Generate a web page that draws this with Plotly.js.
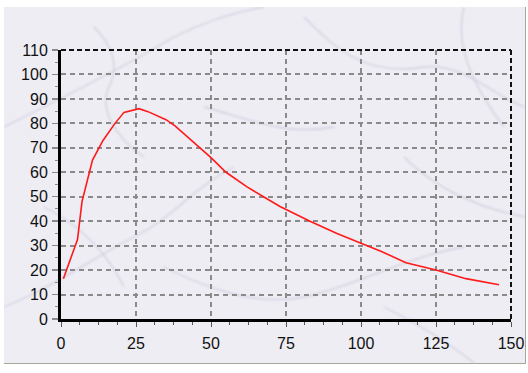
<!DOCTYPE html>
<html>
<head>
<meta charset="utf-8">
<script src="https://cdn.plot.ly/plotly-3.0.1.min.js"></script>
<style>
  html, body { margin: 0; padding: 0; background: #ffffff; width: 528px; height: 373px; overflow: hidden; }
  #bg {
    position: absolute; left: 4px; top: 7px; width: 521px; height: 356px;
    background-color: #eeedf4;
    border-right: 1px solid #a9a6a0; border-bottom: 1px solid #a9a6a0;
    background-image: url("data:image/svg+xml;utf8,<svg xmlns='http://www.w3.org/2000/svg' width='521' height='356'><defs><filter id='b'><feGaussianBlur stdDeviation='0.8'/></filter></defs><g fill='none' stroke='%23c3c0d2' stroke-width='1.3' opacity='0.7' filter='url(%23b)'><path d='M0 120 C60 90 120 60 170 30 C200 15 230 5 260 0'/><path d='M90 20 C110 40 115 60 105 80 C95 100 110 130 140 150'/><path d='M0 300 C50 280 90 250 130 230 C170 210 190 180 230 160'/><path d='M160 260 C200 280 250 300 300 290 C350 280 400 250 460 240'/><path d='M300 10 C330 40 360 70 420 60 C460 55 490 90 521 100'/><path d='M400 150 C430 180 470 200 521 210'/><path d='M380 300 C420 320 450 340 470 356'/><path d='M200 100 C240 110 280 130 330 120'/><path d='M40 200 C70 215 100 240 120 280'/><path d='M460 0 C450 40 470 80 500 120'/></g></svg>");
  }
  #chart { position: absolute; left: 0; top: 0; width: 528px; height: 373px; }
</style>
</head>
<body>
<div id="bg"></div>
<div id="chart"></div>
<script>
// Data
const xValues = [0.8, 5.5, 7, 10.5, 14, 18, 21, 24, 26, 29, 35, 38, 44, 50, 55, 62, 67.5, 73, 83, 92, 100, 107, 115, 125, 135, 146];
const yValues = [16.5, 32.5, 48, 65, 73, 80, 84.5, 85.5, 86, 84.8, 81.5, 79, 72.5, 66, 60, 54, 50, 46, 40, 35, 31, 27.5, 23, 20, 16.5, 14];
const xTickVals = [0, 25, 50, 75, 100, 125, 150];
const yTickVals = [0, 10, 20, 30, 40, 50, 60, 70, 80, 90, 100, 110];

const trace = {
  x: xValues,
  y: yValues,
  type: 'scatter',
  mode: 'lines',
  line: { color: '#ff1a1a', width: 1.6 },
  hoverinfo: 'skip'
};

const layout = {
  width: 528,
  height: 373,
  margin: { l: 60.5, r: 17, t: 50, b: 54, pad: 0 },
  paper_bgcolor: 'rgba(0,0,0,0)',
  plot_bgcolor: 'rgba(0,0,0,0)',
  showlegend: false,
  font: { family: 'Liberation Sans, Arial, sans-serif', size: 16, color: '#111111' },
  xaxis: {
    range: [0, 150],
    tickvals: xTickVals,
    ticktext: xTickVals.map(String),
    showgrid: true,
    gridcolor: '#8a8a8a',
    gridwidth: 2,
    griddash: '5px,4px',
    zeroline: false,
    showline: true,
    linecolor: '#000000',
    linewidth: 3,
    ticks: 'outside',
    ticklen: 5,
    tickwidth: 1,
    tickcolor: '#555555',
    ticklabelstandoff: 3,
    minor: { dtick: 6.25, tick0: 0, ticks: 'outside', ticklen: 3, tickcolor: '#555555', tickwidth: 1, showgrid: false },
    fixedrange: true
  },
  yaxis: {
    range: [0, 110],
    tickvals: yTickVals,
    ticktext: yTickVals.map(String),
    showgrid: true,
    gridcolor: '#8a8a8a',
    gridwidth: 2,
    griddash: '5px,4px',
    zeroline: false,
    showline: true,
    linecolor: '#000000',
    linewidth: 3,
    ticks: 'outside',
    ticklen: 6,
    tickwidth: 1.5,
    tickcolor: '#8a8a8a',
    ticklabelstandoff: 1,
    minor: { dtick: 5, tick0: 0, ticks: 'outside', ticklen: 3, tickcolor: '#8a8a8a', tickwidth: 1, showgrid: false },
    fixedrange: true
  },
  shapes: [
    { type: 'line', xref: 'paper', yref: 'paper', x0: 0, x1: 1, y0: 1, y1: 1,
      line: { color: '#111111', width: 2, dash: '5px,3px' } },
    { type: 'line', xref: 'paper', yref: 'paper', x0: 1, x1: 1, y0: 0, y1: 1,
      line: { color: '#111111', width: 2, dash: '5px,3px' } }
  ]
};

Plotly.newPlot('chart', [trace], layout, { staticPlot: true, displayModeBar: false });
</script>
</body>
</html>
